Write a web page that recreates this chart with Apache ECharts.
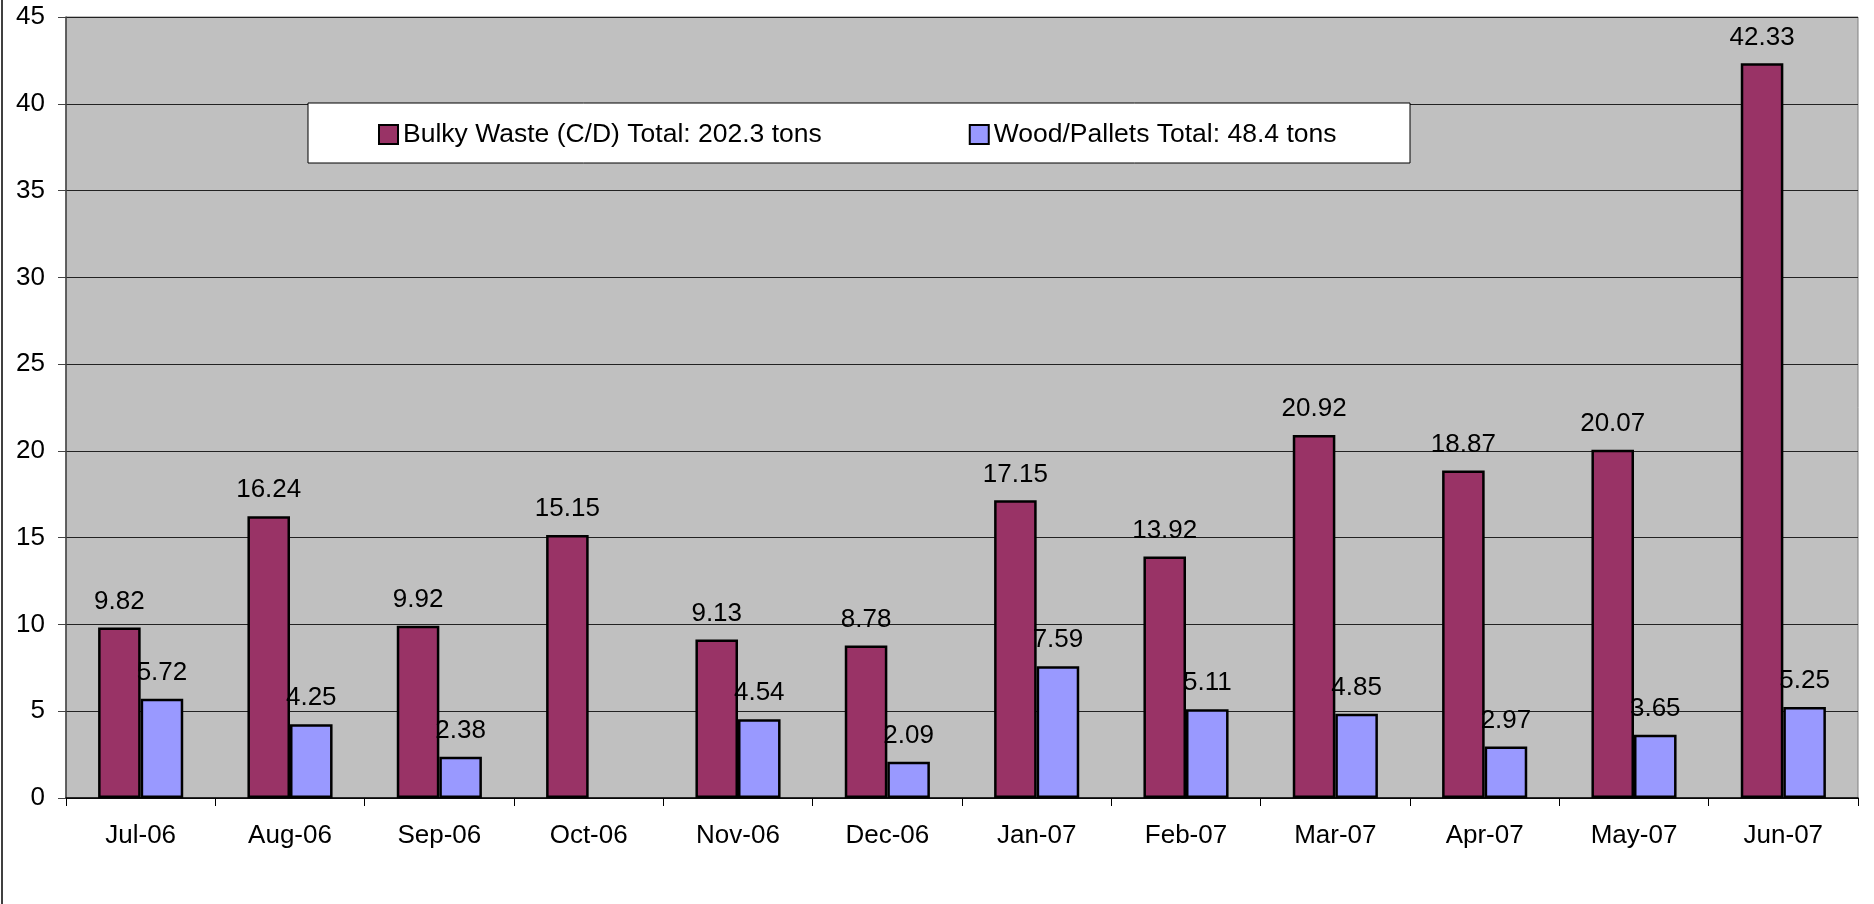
<!DOCTYPE html>
<html>
<head>
<meta charset="utf-8">
<title>Bulky Waste and Wood/Pallets</title>
<script src="https://cdn.jsdelivr.net/npm/echarts@6/dist/echarts.min.js"></script>
<style>
  html, body {
    margin: 0;
    padding: 0;
    background: #fff;
  }
  #chart {
    width: 1874px;
    height: 904px;
  }
</style>
</head>
<body>
<div id="chart"></div>
<script>
  // monthly tonnage
  const months = ['Jul-06', 'Aug-06', 'Sep-06', 'Oct-06', 'Nov-06', 'Dec-06',
                  'Jan-07', 'Feb-07', 'Mar-07', 'Apr-07', 'May-07', 'Jun-07']
  const bulkyWaste = [9.82, 16.24, 9.92, 15.15, 9.13, 8.78, 17.15, 13.92, 20.92, 18.87, 20.07, 42.33]
  const woodPallets = [5.72, 4.25, 2.38, null, 4.54, 2.09, 7.59, 5.11, 4.85, 2.97, 3.65, 5.25]
  const seriesNames = ['Bulky Waste (C/D) Total: 202.3 tons', 'Wood/Pallets Total: 48.4 tons']
  const yTicks = {min: 0, max: 45, interval: 5}

  const font = '"Liberation Sans", Arial, sans-serif'

  const labelStyle = {
    show: true,
    position: 'top',
    distance: 13,
    color: '#000',
    fontSize: 26,
    fontFamily: font,
    formatter: (p) => p.value == null ? '' : Number(p.value).toFixed(2)
  }

  const chart = echarts.init(document.getElementById('chart'))

  const option = {
    animation: false,
    backgroundColor: '#fff',
    grid: {
      left: 66,
      right: 16,
      top: 17,
      bottom: 106,
      show: true,
      backgroundColor: '#C0C0C0',
      borderColor: '#808080',
      borderWidth: 1
    },
    graphic: [
      // legend frame (Excel style white box)
      {
        type: 'rect',
        z: 50,
        shape: {x: 308, y: 103, width: 1102, height: 60},
        style: {fill: '#fff', stroke: '#000', lineWidth: 1}
      },
      // left edge of the outer chart frame
      {
        type: 'line',
        z: 50,
        shape: {x1: 2, y1: 0, x2: 2, y2: 904},
        style: {stroke: '#000', lineWidth: 1.5}
      }
    ],
    legend: {
      z: 60,
      left: 378,
      top: 121,
      padding: 0,
      itemGap: 147,
      itemWidth: 19,
      itemHeight: 19,
      icon: 'rect',
      itemStyle: {borderColor: '#000', borderWidth: 2},
      textStyle: {
        color: '#000',
        fontSize: 26.5,
        fontFamily: font
      },
      data: seriesNames
    },
    xAxis: {
      type: 'category',
      data: months,
      axisLine: {
        lineStyle: {color: '#000', width: 1.5}
      },
      axisTick: {
        show: true,
        length: 8,
        lineStyle: {color: '#000'}
      },
      axisLabel: {
        color: '#000',
        fontSize: 26,
        fontFamily: font,
        margin: 25
      }
    },
    yAxis: {
      type: 'value',
      min: yTicks.min,
      max: yTicks.max,
      interval: yTicks.interval,
      axisLine: {
        show: true,
        lineStyle: {color: '#444', width: 1.5}
      },
      axisTick: {
        show: true,
        length: 8,
        lineStyle: {color: '#444'}
      },
      splitLine: {
        lineStyle: {color: '#222', width: 1}
      },
      axisLabel: {
        color: '#000',
        fontSize: 26,
        fontFamily: font,
        margin: 21
      }
    },
    series: [
      {
        name: seriesNames[0],
        type: 'bar',
        data: bulkyWaste,
        barGap: '0%',
        barCategoryGap: '43%',
        itemStyle: {
          color: '#993366',
          borderColor: '#000',
          borderWidth: 2.5
        },
        label: labelStyle
      },
      {
        name: seriesNames[1],
        type: 'bar',
        data: woodPallets,
        barGap: '0%',
        barCategoryGap: '43%',
        itemStyle: {
          color: '#9999FF',
          borderColor: '#000',
          borderWidth: 2.5
        },
        label: labelStyle
      }
    ]
  }

  chart.setOption(option)
</script>
</body>
</html>
